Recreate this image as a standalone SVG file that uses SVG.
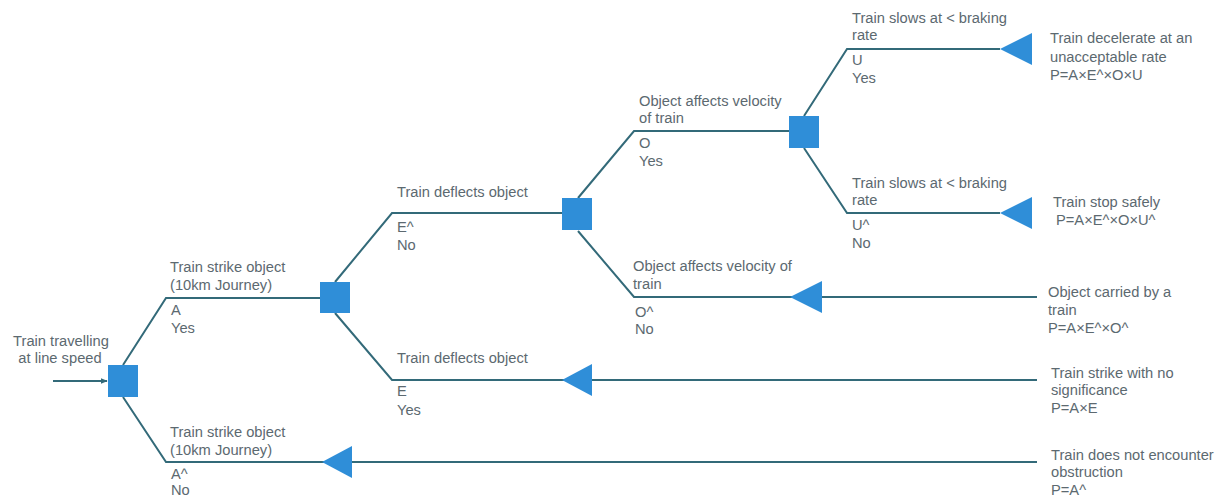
<svg xmlns="http://www.w3.org/2000/svg" width="1226" height="497" viewBox="0 0 1226 497">
  <style>
    .lbl { font-family: "Liberation Sans", Arial, sans-serif; font-size: 14.7px; fill: #5c6970; }
    .wire { fill: none; stroke: #336a79; stroke-width: 2; }
    .dec { fill: #2f8ed8; }
    .end { fill: #2f8ed8; }
  </style>
  <defs>
    <marker id="arrow" viewBox="0 0 10 10" refX="9" refY="5" markerWidth="7" markerHeight="7" orient="auto" markerUnits="userSpaceOnUse">
      <path d="M0,1 L10,5 L0,9 z" fill="#336a79"/>
    </marker>
  </defs>
  <rect width="1226" height="497" fill="#ffffff"/>

  <!-- branches of the event tree -->
  <g id="connectors">
    <path class="wire" d="M53,381 H107" marker-end="url(#arrow)"/>
    <path class="wire" d="M123,365 L166,298 H320"/>
    <path class="wire" d="M123,397 L166,462 H1037"/>
    <path class="wire" d="M335,282 L392,213 H562"/>
    <path class="wire" d="M335,313 L392,380 H1037"/>
    <path class="wire" d="M578,198 L634,131 H789"/>
    <path class="wire" d="M578,231 L634,297 H1037"/>
    <path class="wire" d="M804,116 L847,49 H1000"/>
    <path class="wire" d="M804,148 L847,213 H1000"/>
  </g>

  <!-- initiating event -->
  <g id="start">
    <rect class="dec" x="108" y="365" width="30" height="32"/>
    <text class="lbl" text-anchor="middle" x="61" y="346">Train travelling</text>
    <text class="lbl" text-anchor="middle" x="60" y="363">at line speed</text>
  </g>

  <!-- strike branch: yes -->
  <g id="strike-yes">
    <rect class="dec" x="320" y="282" width="30" height="31"/>
    <text class="lbl" x="170" y="272">Train strike object</text>
    <text class="lbl" x="170" y="290">(10km Journey)</text>
    <text class="lbl" x="171" y="315">A</text>
    <text class="lbl" x="171" y="333">Yes</text>
  </g>

  <!-- strike branch: no -->
  <g id="strike-no">
    <polygon class="end" points="322,462 352,446 352,478"/>
    <text class="lbl" x="170" y="437">Train strike object</text>
    <text class="lbl" x="170" y="455">(10km Journey)</text>
    <text class="lbl" x="171" y="479">A^</text>
    <text class="lbl" x="171" y="495">No</text>
  </g>

  <!-- deflection branch: no -->
  <g id="deflect-no">
    <rect class="dec" x="562" y="198" width="30" height="32"/>
    <text class="lbl" x="397" y="197">Train deflects object</text>
    <text class="lbl" x="397" y="232">E^</text>
    <text class="lbl" x="397" y="250">No</text>
  </g>

  <!-- deflection branch: yes -->
  <g id="deflect-yes">
    <polygon class="end" points="562,380 592,364 592,396"/>
    <text class="lbl" x="397" y="363">Train deflects object</text>
    <text class="lbl" x="397" y="396">E</text>
    <text class="lbl" x="397" y="415">Yes</text>
  </g>

  <!-- velocity branch: yes -->
  <g id="velocity-yes">
    <rect class="dec" x="789" y="116" width="30" height="32"/>
    <text class="lbl" x="639" y="106">Object affects velocity</text>
    <text class="lbl" x="639" y="123">of train</text>
    <text class="lbl" x="639" y="148">O</text>
    <text class="lbl" x="639" y="166">Yes</text>
  </g>

  <!-- velocity branch: no -->
  <g id="velocity-no">
    <polygon class="end" points="790,297 822,281 822,313"/>
    <text class="lbl" x="633" y="271">Object affects velocity of</text>
    <text class="lbl" x="633" y="289">train</text>
    <text class="lbl" x="635" y="317">O^</text>
    <text class="lbl" x="635" y="334">No</text>
  </g>

  <!-- braking branch: yes -->
  <g id="braking-yes">
    <polygon class="end" points="1000,49 1032,33 1032,65"/>
    <text class="lbl" x="852" y="23">Train slows at &lt; braking</text>
    <text class="lbl" x="852" y="40">rate</text>
    <text class="lbl" x="852" y="65">U</text>
    <text class="lbl" x="852" y="83">Yes</text>
  </g>

  <!-- braking branch: no -->
  <g id="braking-no">
    <polygon class="end" points="1000,213 1032,197 1032,229"/>
    <text class="lbl" x="852" y="188">Train slows at &lt; braking</text>
    <text class="lbl" x="852" y="205">rate</text>
    <text class="lbl" x="852" y="230">U^</text>
    <text class="lbl" x="852" y="248">No</text>
  </g>

  <!-- outcomes -->
  <g id="outcome-decelerate">
    <text class="lbl" x="1050" y="43">Train decelerate at an</text>
    <text class="lbl" x="1050" y="62">unacceptable rate</text>
    <text class="lbl" x="1050" y="80">P=A×E^×O×U</text>
  </g>
  <g id="outcome-stop">
    <text class="lbl" x="1053" y="207">Train stop safely</text>
    <text class="lbl" x="1056" y="225">P=A×E^×O×U^</text>
  </g>
  <g id="outcome-carried">
    <text class="lbl" x="1048" y="297">Object carried by a</text>
    <text class="lbl" x="1048" y="315">train</text>
    <text class="lbl" x="1048" y="333">P=A×E^×O^</text>
  </g>
  <g id="outcome-strike">
    <text class="lbl" x="1051" y="378">Train strike with no</text>
    <text class="lbl" x="1051" y="395">significance</text>
    <text class="lbl" x="1051" y="413">P=A×E</text>
  </g>
  <g id="outcome-clear">
    <text class="lbl" x="1051" y="460">Train does not encounter</text>
    <text class="lbl" x="1051" y="477">obstruction</text>
    <text class="lbl" x="1051" y="495">P=A^</text>
  </g>
</svg>
